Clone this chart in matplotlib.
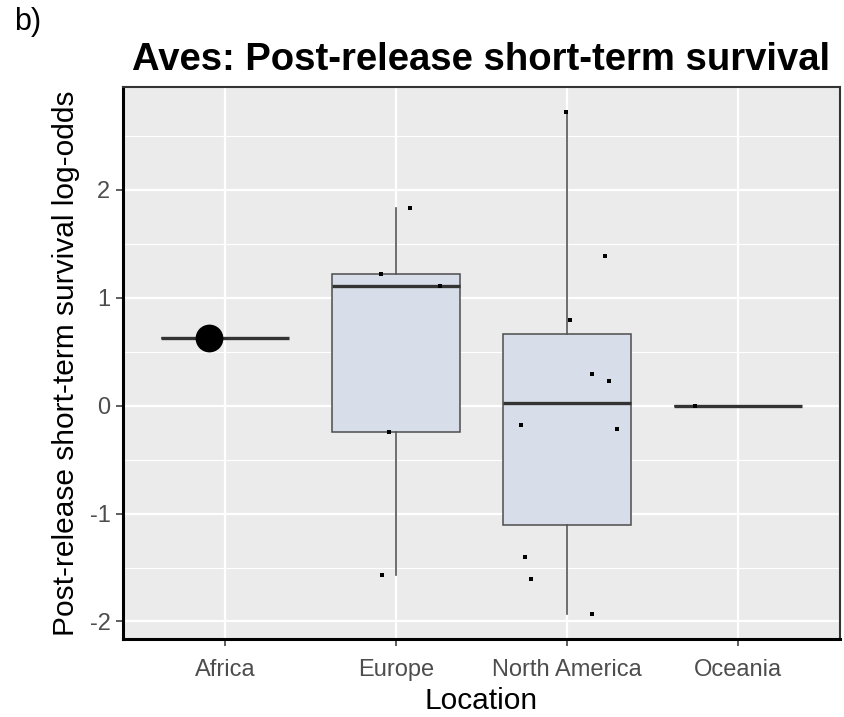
import matplotlib
matplotlib.use("Agg")
import matplotlib.pyplot as plt
import numpy as np

plt.rcParams['font.family'] = ['Liberation Sans', 'DejaVu Sans']

# Locations on the x axis
locations = ["Africa", "Europe", "North America", "Oceania"]

# Study-level log-odds of post-release short-term survival, per location
africa_vals = [0.63]
europe_vals = [1.83, 1.22, 1.11, -0.24, -1.57]
north_america_vals = [2.72, 1.39, 0.79, 0.29, 0.23, -0.18, -0.22, -1.40, -1.61, -1.93]
oceania_vals = [0.0]

# Horizontal jitter of each point (in category units)
africa_jit = [-0.094]
europe_jit = [0.08, -0.088, 0.259, -0.043, -0.084]
north_america_jit = [-0.006, 0.222, 0.018, 0.15, 0.247, -0.269, 0.296, -0.246, -0.211, 0.15]
oceania_jit = [-0.248]

# Marker size per location group (the single African study is drawn large)
africa_size = [400]
other_size = 7

y_ticks = [-2, -1, 0, 1, 2]
y_minor = [-1.5, -0.5, 0.5, 1.5, 2.5]

groups = [africa_vals, europe_vals, north_america_vals, oceania_vals]
jitters = [africa_jit, europe_jit, north_america_jit, oceania_jit]
positions = np.arange(1, len(locations) + 1)

W, H = 844, 717
fig = plt.figure(figsize=(W / 100, H / 100), dpi=100)
ax = fig.add_axes([123 / W, 1 - 639 / H, (840 - 123) / W, (639 - 87) / H])
ax.set_facecolor("#EBEBEB")

# grid
for v in y_minor:
    ax.axhline(v, color="white", lw=0.8, zorder=0)
for v in y_ticks:
    ax.axhline(v, color="white", lw=1.6, zorder=0)
for p in positions:
    ax.axvline(p, color="white", lw=1.6, zorder=0)

ax.boxplot(
    groups, positions=positions, widths=0.75, whis=1.5, patch_artist=True,
    showfliers=False, showcaps=False,
    boxprops=dict(facecolor="#D8DEE9", edgecolor="#4D4D4D", linewidth=1.1),
    medianprops=dict(color="#333333", linewidth=2.4, solid_capstyle="butt"),
    whiskerprops=dict(color="#555555", linewidth=1.2),
    zorder=2,
)

for p, vals, jit in zip(positions, groups, jitters):
    xs = p + np.array(jit)
    if vals is africa_vals:
        ax.scatter(xs, vals, s=africa_size, color="black", marker="o", zorder=4, linewidths=0)
    else:
        ax.scatter(xs, vals, s=other_size, color="black", marker="s", zorder=4, linewidths=0)

all_vals = np.concatenate([np.array(g, float) for g in groups])
lo, hi = all_vals.min(), all_vals.max()
pad = (hi - lo) * 0.05
ax.set_ylim(lo - pad, hi + pad)
ax.set_xlim(0.4, 4.6)

ax.set_yticks(y_ticks)
ax.set_yticklabels([str(t) for t in y_ticks])
ax.set_xticks(positions)
ax.set_xticklabels(locations)
ax.tick_params(axis="both", colors="#333333", length=5, width=1.1, labelsize=17, pad=4)
ax.tick_params(axis="x", pad=21.5)
for lab in ax.get_xticklabels():
    lab.set_verticalalignment("baseline")
for lab in ax.get_xticklabels() + ax.get_yticklabels():
    lab.set_color("#4D4D4D")

for side in ["left", "bottom"]:
    ax.spines[side].set_color("black")
    ax.spines[side].set_linewidth(2.2)
for side in ["top", "right"]:
    ax.spines[side].set_color("#333333")
    ax.spines[side].set_linewidth(1.5)

panel_cx = (123 + 840) / 2 / W
panel_cy = 1 - (87 + 639) / 2 / H
fig.text(panel_cx, 1 - 709 / H, "Location", fontsize=21.5, color="black",
         ha="center", va="baseline")
fig.text(74 / W, panel_cy, "Post-release short-term survival log-odds", fontsize=21.5,
         color="black", rotation=90, rotation_mode="anchor", ha="center", va="baseline")
ax.set_title("Aves: Post-release short-term survival", fontsize=27.5, fontweight="bold", pad=12)

fig.text(14 / W, 1 - 22 / H, "b)", fontsize=22, va="center", ha="left")

fig.savefig("out.png", dpi=100)
